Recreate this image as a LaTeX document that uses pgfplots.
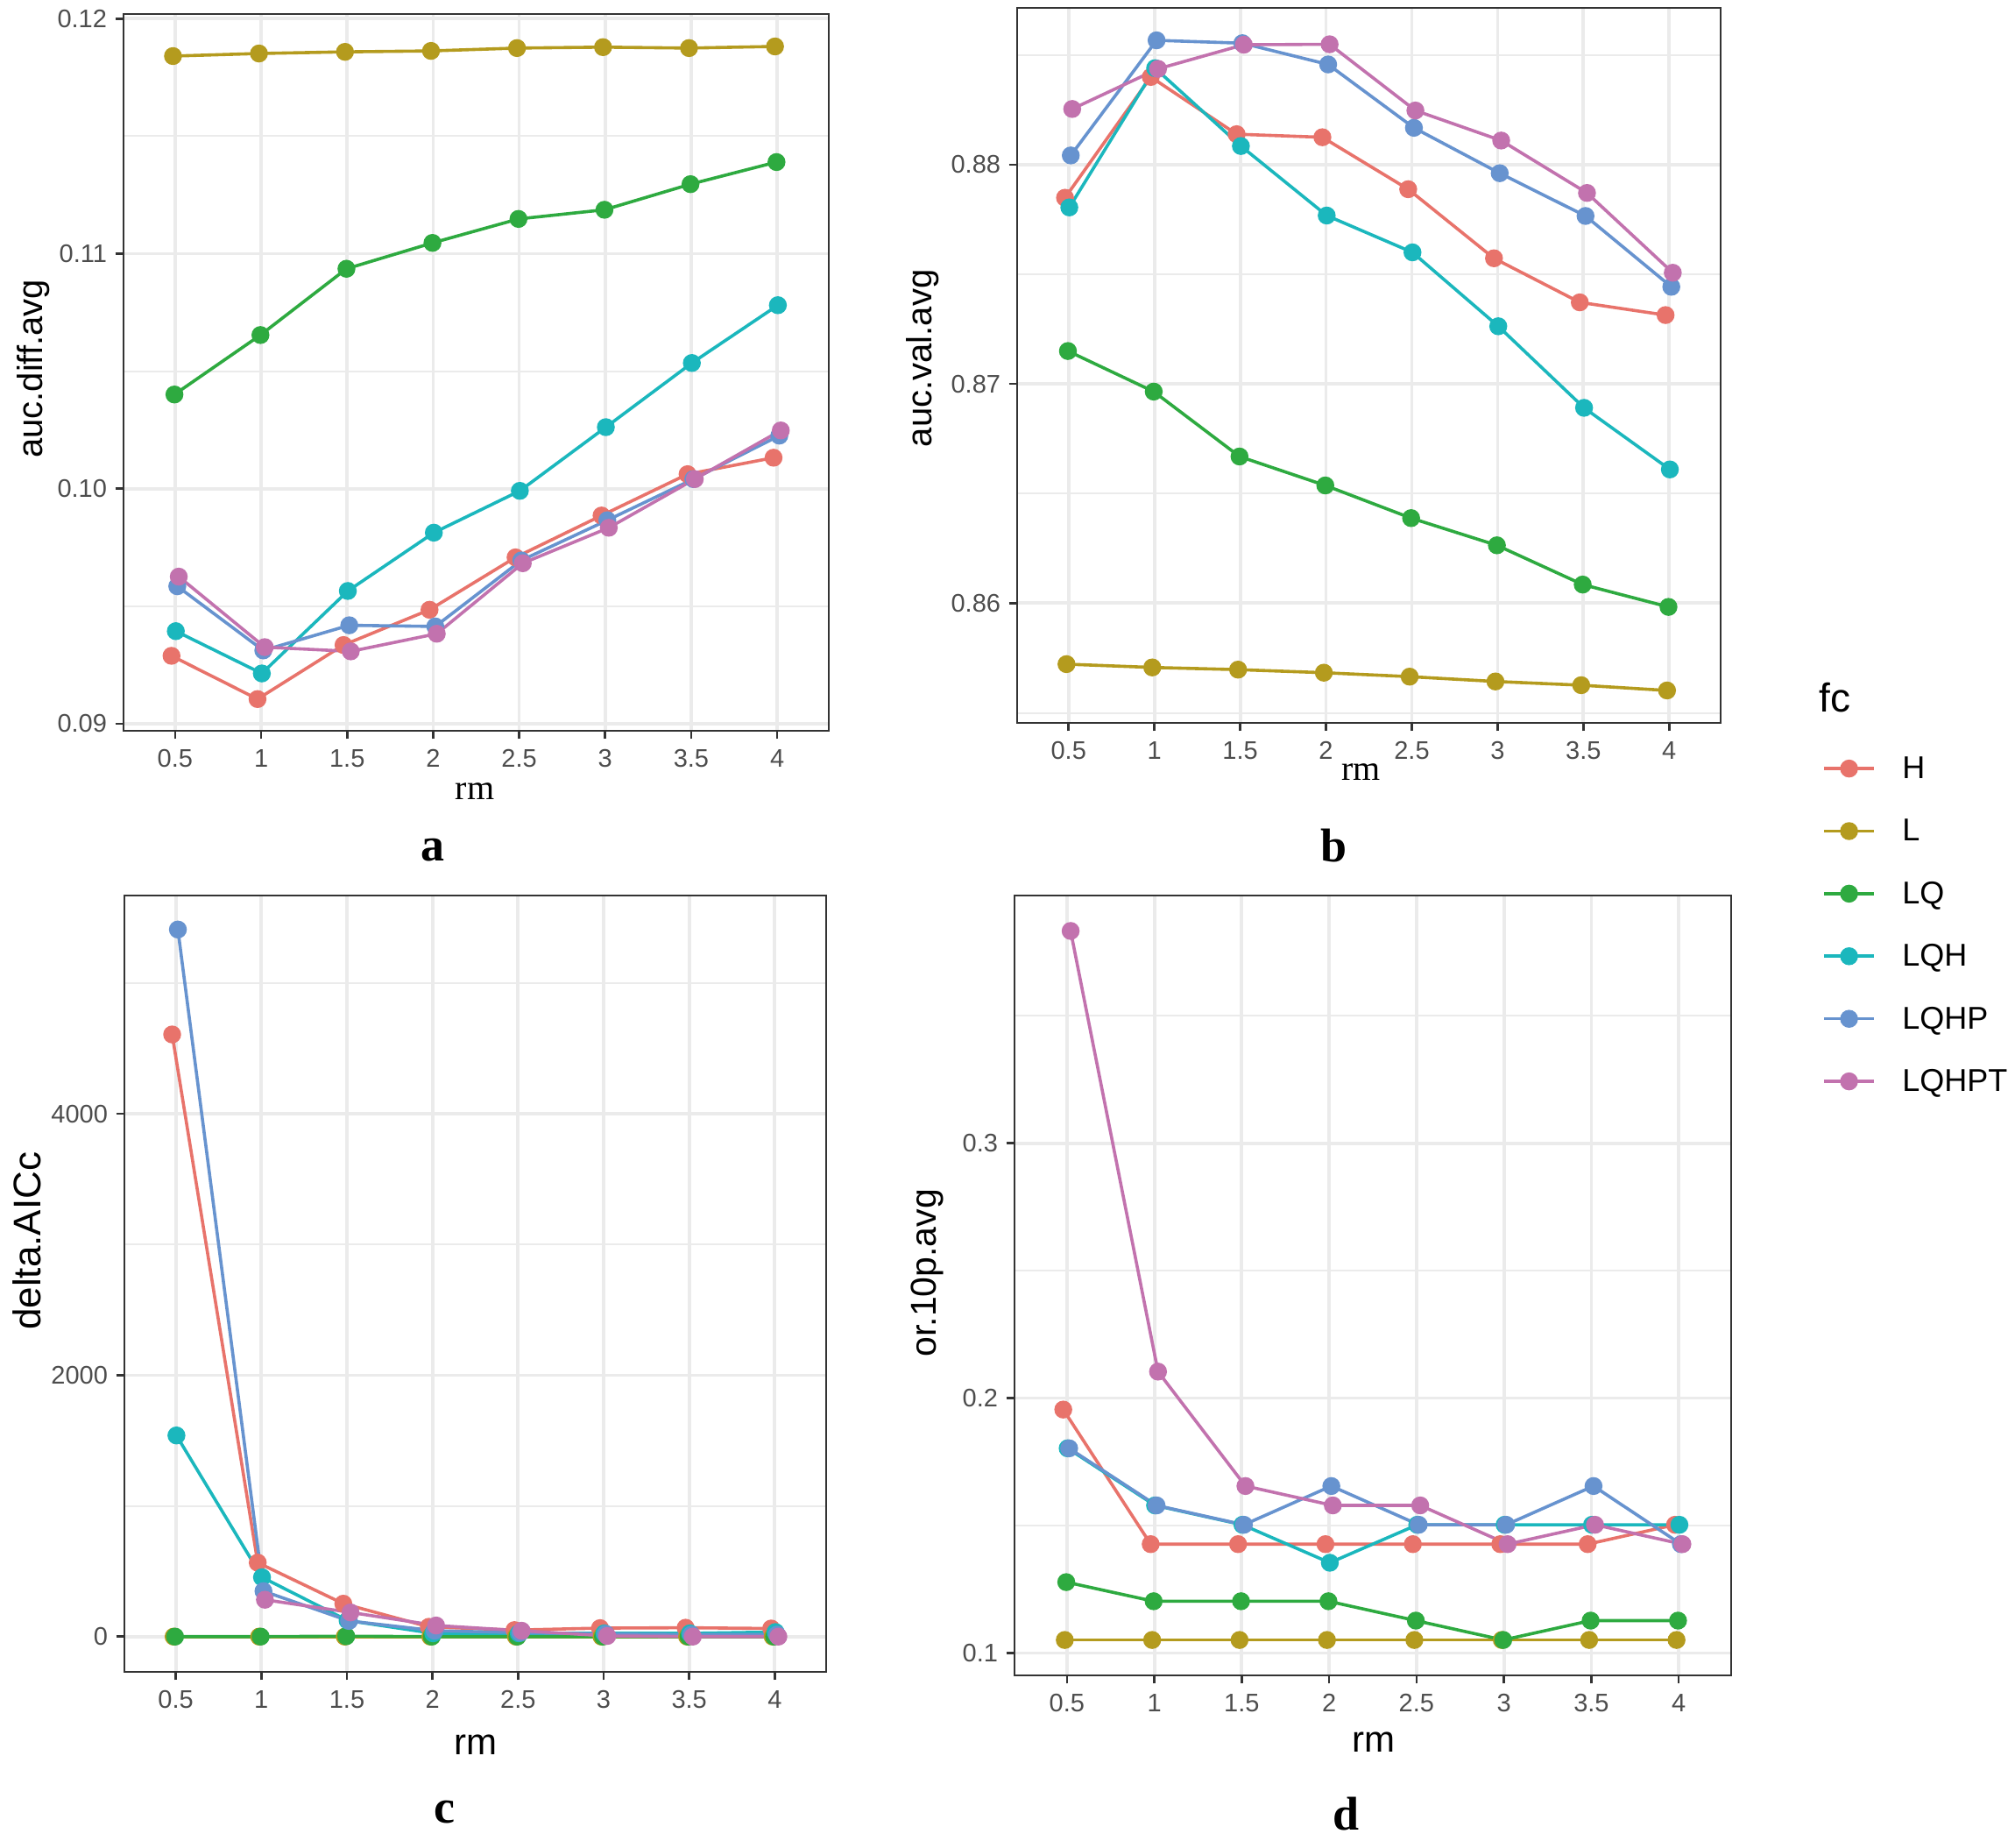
\documentclass[border=0pt]{standalone}
\usepackage{fontspec}
\setmainfont{Liberation Sans}
\newfontfamily\timesfont{Liberation Serif}
\usepackage{pgfplots}
\usepackage{pgfplotstable}
\pgfplotsset{compat=1.18}

\definecolor{cH}{HTML}{E8736B}
\definecolor{cL}{HTML}{B49B1E}
\definecolor{cLQ}{HTML}{2EAA40}
\definecolor{cLQH}{HTML}{1BB7BD}
\definecolor{cLQHP}{HTML}{6793CF}
\definecolor{cLQHPT}{HTML}{C272AE}
\definecolor{gridc}{HTML}{EBEBEB}
\definecolor{grey20}{HTML}{333333}
\definecolor{grey30}{HTML}{4D4D4D}

\pgfplotstableread{
rm H L LQ LQH LQHP LQHPT
0.5 0.09289 0.11841 0.10401 0.09394 0.09585 0.09626
1 0.09105 0.11852 0.10654 0.09214 0.09312 0.09326
1.5 0.09335 0.11859 0.10936 0.09565 0.09419 0.09308
2 0.09485 0.11863 0.11046 0.09813 0.09414 0.09383
2.5 0.09708 0.11875 0.11148 0.09991 0.09695 0.09683
3 0.09886 0.11879 0.11187 0.10262 0.09866 0.09834
3.5 0.10062 0.11875 0.11296 0.10535 0.10041 0.10041
4 0.10132 0.11882 0.11390 0.10781 0.10226 0.10248
}\tabA

\pgfplotstableread{
rm H L LQ LQH LQHP LQHPT
0.5 0.87849 0.85722 0.87150 0.87805 0.88042 0.88254
1 0.88400 0.85707 0.86965 0.88440 0.88567 0.88437
1.5 0.88139 0.85697 0.86669 0.88085 0.88554 0.88547
2 0.88125 0.85683 0.86537 0.87768 0.88457 0.88549
2.5 0.87888 0.85665 0.86388 0.87600 0.88168 0.88247
3 0.87573 0.85643 0.86264 0.87263 0.87961 0.88110
3.5 0.87372 0.85626 0.86085 0.86891 0.87766 0.87871
4 0.87314 0.85602 0.85983 0.86610 0.87443 0.87507
}\tabB

\pgfplotstableread{
rm H L LQ LQH LQHP LQHPT
0.5 4607 0 0 1539 5410 nan
1 566 0 0 454 348 282
1.5 252 0 3 123 120 185
2 75 0 0 25 45 85
2.5 50 0 0 25 30 45
3 65 0 0 25 20 5
3.5 68 0 0 25 15 0
4 62 0 0 35 15 0
}\tabC

\pgfplotstableread{
rm H L LQ LQH LQHP LQHPT
0.5 0.1955 0.1051 0.1278 0.1803 0.1803 0.3833
1 0.1427 0.1051 0.1203 0.1579 0.1579 0.2104
1.5 0.1427 0.1051 0.1203 0.1503 0.1503 0.1655
2 0.1427 0.1051 0.1203 0.1354 0.1655 0.1579
2.5 0.1427 0.1051 0.1127 0.1503 0.1503 0.1579
3 0.1427 0.1051 0.1051 0.1503 0.1503 0.1427
3.5 0.1427 0.1051 0.1127 0.1503 0.1655 0.1503
4 0.1503 0.1051 0.1127 0.1503 0.1427 0.1427
}\tabD

\newcommand\tickfont{\fontsize{14.5}{17}\selectfont}

\pgfplotsset{
  panel/.style={
    scale only axis,
    xmin=0.2, xmax=4.3,
    xtick={0.5,1,1.5,2,2.5,3,3.5,4},
    xticklabels={0.5,1,1.5,2,2.5,3,3.5,4},
    xmajorgrids, ymajorgrids, yminorgrids,
    major grid style={draw=gridc, line width=1.9pt},
    minor grid style={draw=gridc, line width=1.0pt},
    tick align=outside, tick pos=left,
    major tick length=4.7pt, minor tick length=0pt,
    every tick/.style={draw=grey20, line width=1.3pt},
    axis line style={draw=grey20, line width=1.2pt},
    ticklabel style={font=\tickfont, text=grey30, inner sep=0pt},
    yticklabel style={anchor=east, xshift=-4.6pt},
    xticklabel style={anchor=north, yshift=-5.8pt},
    /pgf/number format/assume math mode=true,
  },
  sH/.style={draw=cH, line width=1.8pt, mark=*, mark size=4.2pt, mark options={draw=none, fill=cH}},
  sL/.style={draw=cL, line width=1.8pt, mark=*, mark size=4.2pt, mark options={draw=none, fill=cL}},
  sLQ/.style={draw=cLQ, line width=1.8pt, mark=*, mark size=4.2pt, mark options={draw=none, fill=cLQ}},
  sLQH/.style={draw=cLQH, line width=1.8pt, mark=*, mark size=4.2pt, mark options={draw=none, fill=cLQH}},
  sLQHP/.style={draw=cLQHP, line width=1.8pt, mark=*, mark size=4.2pt, mark options={draw=none, fill=cLQHP}},
  sLQHPT/.style={draw=cLQHPT, line width=1.8pt, mark=*, mark size=4.2pt, mark options={draw=none, fill=cLQHPT}},
}

\begin{document}
\begin{tikzpicture}
\useasboundingbox (0pt,0pt) rectangle (1150pt,-1054pt);

% ---------------- panel a
\begin{axis}[panel, at={(70.5pt,-417pt)}, anchor=south west,
  width=402.5pt, height=409pt,
  ymin=0.0897, ymax=0.1202,
  ytick={0.09,0.10,0.11,0.12}, yticklabels={0.09,0.10,0.11,0.12},
  minor ytick={0.095,0.105,0.115},
  xlabel={rm}, xlabel style={font=\timesfont\fontsize{20}{24}\selectfont, at={(axis description cs:0.498,-0.0954)}, anchor=base},
  ylabel={auc.diff.avg}, ylabel style={font=\fontsize{20}{24}\selectfont, at={(axis description cs:-0.1155,0.505)}, anchor=base, rotate=0},
]
\addplot[sH] table[x expr=\thisrow{rm}-0.021, y=H]{\tabA};
\addplot[sL] table[x expr=\thisrow{rm}-0.0125, y=L]{\tabA};
\addplot[sLQ] table[x expr=\thisrow{rm}-0.004, y=LQ]{\tabA};
\addplot[sLQH] table[x expr=\thisrow{rm}+0.004, y=LQH]{\tabA};
\addplot[sLQHP] table[x expr=\thisrow{rm}+0.0125, y=LQHP]{\tabA};
\addplot[sLQHPT] table[x expr=\thisrow{rm}+0.021, y=LQHPT]{\tabA};
\end{axis}

% ---------------- panel b
\begin{axis}[panel, at={(580.5pt,-412.5pt)}, anchor=south west,
  width=401.5pt, height=408pt,
  ymin=0.85454, ymax=0.88715,
  ytick={0.86,0.87,0.88}, yticklabels={0.86,0.87,0.88},
  minor ytick={0.855,0.865,0.875,0.885},
  xlabel={rm}, xlabel style={font=\timesfont\fontsize{20}{24}\selectfont, at={(axis description cs:0.489,-0.0797)}, anchor=base},
  ylabel={auc.val.avg}, ylabel style={font=\fontsize{20}{24}\selectfont, at={(axis description cs:-0.122,0.51)}, anchor=base, rotate=0},
]
\addplot[sH] table[x expr=\thisrow{rm}-0.021, y=H]{\tabB};
\addplot[sL] table[x expr=\thisrow{rm}-0.0125, y=L]{\tabB};
\addplot[sLQ] table[x expr=\thisrow{rm}-0.004, y=LQ]{\tabB};
\addplot[sLQH] table[x expr=\thisrow{rm}+0.004, y=LQH]{\tabB};
\addplot[sLQHP] table[x expr=\thisrow{rm}+0.0125, y=LQHP]{\tabB};
\addplot[sLQHPT] table[x expr=\thisrow{rm}+0.021, y=LQHPT]{\tabB};
\end{axis}

% ---------------- panel c
\begin{axis}[panel, at={(71pt,-954pt)}, anchor=south west,
  width=400.5pt, height=443pt,
  ymin=-270, ymax=5670,
  ytick={0,2000,4000}, yticklabels={0,2000,4000},
  minor ytick={1000,3000,5000},
  xlabel={rm}, xlabel style={font=\fontsize{21}{25}\selectfont, at={(axis description cs:0.5,-0.1061)}, anchor=base},
  ylabel={delta.AICc}, ylabel style={font=\fontsize{22}{26}\selectfont, at={(axis description cs:-0.1186,0.555)}, anchor=base, rotate=0},
]
\addplot[sH] table[x expr=\thisrow{rm}-0.021, y=H]{\tabC};
\addplot[sL] table[x expr=\thisrow{rm}-0.0125, y=L]{\tabC};
\addplot[sLQ] table[x expr=\thisrow{rm}-0.004, y=LQ]{\tabC};
\addplot[sLQH] table[x expr=\thisrow{rm}+0.004, y=LQH]{\tabC};
\addplot[sLQHP] table[x expr=\thisrow{rm}+0.0125, y=LQHP]{\tabC};
\addplot[sLQHPT] table[x expr=\thisrow{rm}+0.021, y=LQHPT]{\tabC};
\end{axis}

% ---------------- panel d (with legend)
\begin{axis}[panel, at={(579pt,-956pt)}, anchor=south west,
  width=409pt, height=445pt,
  ymin=0.0912, ymax=0.3972,
  ytick={0.1,0.2,0.3}, yticklabels={0.1,0.2,0.3},
  minor ytick={0.15,0.25,0.35},
  xlabel={rm}, xlabel style={font=\fontsize{21}{25}\selectfont, at={(axis description cs:0.501,-0.0978)}, anchor=base},
  ylabel={or.10p.avg}, ylabel style={font=\fontsize{20.5}{25}\selectfont, at={(axis description cs:-0.110,0.516)}, anchor=base, rotate=0},
  legend cell align=left,
  legend image code/.code={\draw[mark repeat=2, mark phase=2, #1] plot coordinates {(0pt,0pt) (14.25pt,0pt) (28.5pt,0pt)};},
  legend style={at={(axis description cs:1.1275,1.1835)}, anchor=north west, draw=none, fill=none,
    inner sep=0pt, outer sep=0pt, row sep=17.3pt, font=\fontsize{18}{21}\selectfont,
    /tikz/every odd column/.append style={column sep=13.2pt},
    /tikz/every even column/.append style={text height=12.9pt, text depth=0pt, inner sep=0pt}},
]
\addplot[sH] table[x expr=\thisrow{rm}-0.021, y=H]{\tabD};
\addlegendentry{H}
\addplot[sL] table[x expr=\thisrow{rm}-0.0125, y=L]{\tabD};
\addlegendentry{L}
\addplot[sLQ] table[x expr=\thisrow{rm}-0.004, y=LQ]{\tabD};
\addlegendentry{LQ}
\addplot[sLQH] table[x expr=\thisrow{rm}+0.004, y=LQH]{\tabD};
\addlegendentry{LQH}
\addplot[sLQHP] table[x expr=\thisrow{rm}+0.0125, y=LQHP]{\tabD};
\addlegendentry{LQHP}
\addplot[sLQHPT] table[x expr=\thisrow{rm}+0.021, y=LQHPT]{\tabD};
\addlegendentry{LQHPT}
\end{axis}

% legend title and panel letters
\node[anchor=west, inner sep=0pt, font=\fontsize{23}{27}\selectfont] at (1038pt,-398pt) {fc};
\node[anchor=base, inner sep=0pt, font=\timesfont\bfseries\fontsize{27}{32}\selectfont] at (247pt,-491pt) {a};
\node[anchor=base, inner sep=0pt, font=\timesfont\bfseries\fontsize{27}{32}\selectfont] at (761pt,-491.5pt) {b};
\node[anchor=base, inner sep=0pt, font=\timesfont\bfseries\fontsize{27}{32}\selectfont] at (253.5pt,-1040pt) {c};
\node[anchor=base, inner sep=0pt, font=\timesfont\bfseries\fontsize{27}{32}\selectfont] at (768pt,-1044pt) {d};
\end{tikzpicture}
\end{document}
